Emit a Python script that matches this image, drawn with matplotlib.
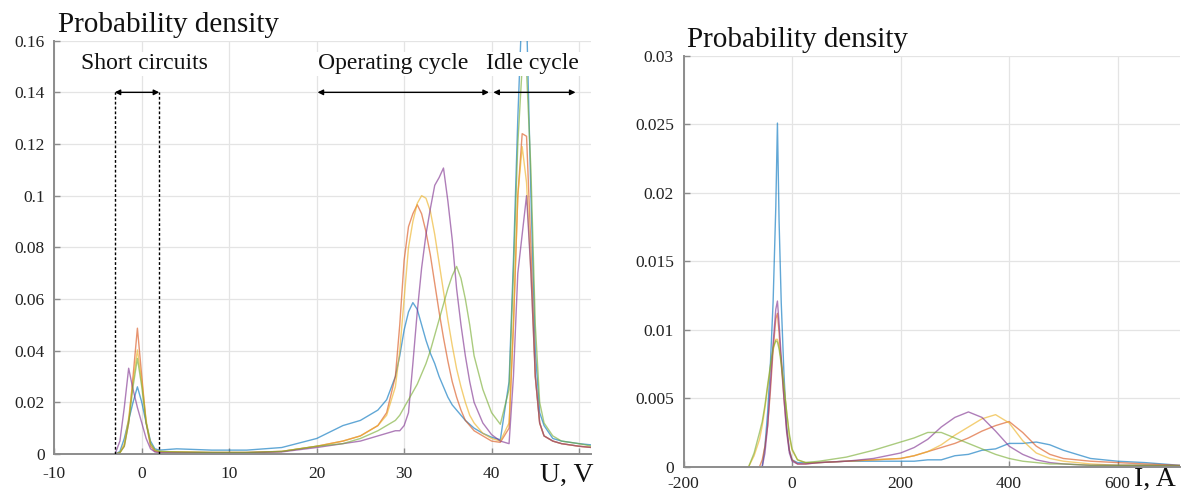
import numpy as np
import matplotlib
matplotlib.use("Agg")
import matplotlib.pyplot as plt

plt.rcParams['font.family'] = ['Liberation Serif', 'DejaVu Serif']

nan = np.nan
# ---------------- Left panel: voltage ----------------
u_vals = [-4, -3, -2.5, -2, -1.5, -1, -0.5, 0, 0.5, 1, 1.5, 2,
          4, 8, 12, 16, 20, 23, 25, 27, 28,
          29, 29.5, 30, 30.5, 31, 31.5, 32, 32.5, 33, 33.5, 34, 34.5, 35, 35.5, 36, 36.5, 37, 37.5, 38,
          39, 40, 41, 42, 42.5, 43, 43.5, 44, 44.5, 45, 45.5, 46, 47, 48, 50, 51.5]

u_blue = [nan, 0, 0.001, 0.006, 0.013, 0.02, 0.026, 0.02, 0.012, 0.005, 0.002, 0.0015,
          0.002, 0.0015, 0.0015, 0.0025, 0.006, 0.011, 0.013, 0.017, 0.021,
          0.03, 0.038, 0.048, 0.055, 0.0586, 0.056, 0.05, 0.044, 0.039, 0.035, 0.03, 0.026, 0.022, 0.019, 0.017, 0.015, 0.013, 0.0115, 0.01,
          0.008, 0.0065, 0.0055, 0.028, 0.075, 0.13, 0.175, 0.17, 0.1, 0.04, 0.016, 0.011, 0.006, 0.005, 0.004, 0.0035]
u_orange = [nan, 0, 0.0005, 0.003, 0.012, 0.03, 0.0487, 0.03, 0.012, 0.003, 0.001, 0.0008,
            0.0008, 0.0006, 0.0006, 0.001, 0.003, 0.005, 0.007, 0.011, 0.016,
            0.03, 0.05, 0.075, 0.088, 0.093, 0.0965, 0.093, 0.086, 0.077, 0.066, 0.055, 0.045, 0.036, 0.028, 0.022, 0.017, 0.013, 0.011, 0.009,
            0.007, 0.005, 0.0045, 0.01, 0.05, 0.1, 0.124, 0.123, 0.08, 0.03, 0.012, 0.007, 0.005, 0.004, 0.003, 0.0025]
u_yellow = [nan, 0, 0.0005, 0.004, 0.014, 0.028, 0.0403, 0.028, 0.013, 0.004, 0.0015, 0.001,
            0.0008, 0.0006, 0.0006, 0.001, 0.003, 0.005, 0.007, 0.011, 0.015,
            0.026, 0.04, 0.06, 0.08, 0.09, 0.097, 0.1, 0.099, 0.094, 0.085, 0.074, 0.063, 0.052, 0.042, 0.033, 0.026, 0.02, 0.015, 0.012,
            0.008, 0.006, 0.005, 0.012, 0.05, 0.1, 0.119, 0.105, 0.07, 0.03, 0.012, 0.007, 0.005, 0.004, 0.003, 0.0025]
u_purple = [nan, 0.0005, 0.005, 0.018, 0.0332, 0.025, 0.018, 0.012, 0.006, 0.002, 0.0008, 0.0005,
            0.0005, 0.0005, 0.0005, 0.0008, 0.0025, 0.004, 0.005, 0.007, 0.008,
            0.009, 0.009, 0.011, 0.016, 0.035, 0.055, 0.072, 0.085, 0.095, 0.104, 0.107, 0.1107, 0.098, 0.083, 0.064, 0.05, 0.038, 0.028, 0.02,
            0.012, 0.0075, 0.005, 0.004, 0.03, 0.07, 0.085, 0.1, 0.07, 0.03, 0.012, 0.007, 0.005, 0.004, 0.003, 0.0025]
u_green = [nan, 0, 0.0005, 0.003, 0.012, 0.026, 0.037, 0.026, 0.012, 0.004, 0.0015, 0.001,
           0.0008, 0.0006, 0.0006, 0.001, 0.003, 0.004, 0.006, 0.009, 0.011,
           0.013, 0.015, 0.018, 0.021, 0.024, 0.027, 0.031, 0.035, 0.04, 0.046, 0.052, 0.058, 0.064, 0.069, 0.0726, 0.068, 0.06, 0.05, 0.038,
           0.025, 0.016, 0.0115, 0.025, 0.07, 0.12, 0.15, 0.148, 0.11, 0.05, 0.02, 0.012, 0.007, 0.005, 0.004, 0.003]

u_ticks = [-10, 0, 10, 20, 30, 40, 50]
u_ticklabels = ['-10', '0', '10', '20', '30', '40', '']
u_yticks = [0, 0.02, 0.04, 0.06, 0.08, 0.1, 0.12, 0.14, 0.16]
u_yticklabels = ['0', '0.02', '0.04', '0.06', '0.08', '0.1', '0.12', '0.14', '0.16']

# ---------------- Right panel: current ----------------
i_vals = [-90, -80, -70, -60, -55, -50, -45, -40, -35, -30, -27, -24, -20, -15, -10, -5, 0,
          10, 25, 50, 100, 150, 200, 225, 250, 275, 300, 325, 350, 375, 400, 425, 450, 475, 500,
          550, 600, 650, 715]

i_blue = [nan, nan, nan, nan, 0, 0.0015, 0.004, 0.0075, 0.012, 0.019, 0.0251, 0.018, 0.012, 0.0068, 0.003, 0.0012, 0.0005,
          0.0003, 0.0003, 0.0003, 0.0004, 0.0004, 0.0004, 0.0004, 0.0005, 0.0005, 0.0008, 0.0009, 0.0012, 0.0013, 0.0017, 0.0017, 0.0018, 0.0016, 0.0012,
          0.0006, 0.0004, 0.0003, 0.0001]
i_orange = [nan, nan, nan, 0, 0.0005, 0.0015, 0.003, 0.0055, 0.0085, 0.0108, 0.0112, 0.0098, 0.0075, 0.005, 0.0027, 0.0012, 0.0005,
            0.0002, 0.0002, 0.0003, 0.0004, 0.0005, 0.0006, 0.0008, 0.0011, 0.0014, 0.0017, 0.0021, 0.0026, 0.003, 0.0033, 0.0025, 0.0015, 0.0009, 0.0006,
            0.0004, 0.0003, 0.0002, 0.0001]
i_yellow = [nan, 0, 0.0008, 0.002, 0.003, 0.0043, 0.0058, 0.0072, 0.0085, 0.0093, 0.0093, 0.0088, 0.0078, 0.006, 0.004, 0.0022, 0.0012,
            0.0005, 0.0003, 0.0003, 0.0004, 0.0005, 0.0006, 0.0008, 0.0011, 0.0016, 0.0023, 0.0029, 0.0035, 0.0038, 0.0032, 0.0019, 0.001, 0.0006, 0.0004,
            0.0002, 0.0001, 0.0001, 0.00005]
i_purple = [nan, nan, nan, nan, 0, 0.001, 0.003, 0.006, 0.009, 0.0115, 0.0121, 0.0105, 0.008, 0.005, 0.0025, 0.001, 0.0004,
            0.0002, 0.0002, 0.0003, 0.0004, 0.0006, 0.001, 0.0014, 0.002, 0.0029, 0.0036, 0.004, 0.0036, 0.0026, 0.0015, 0.0009, 0.0005, 0.0003, 0.0002,
            0.0001, 0.0001, 0.0001, 0.00005]
i_green = [nan, 0, 0.001, 0.0025, 0.0033, 0.0045, 0.006, 0.0074, 0.0087, 0.0092, 0.0091, 0.0086, 0.0075, 0.0058, 0.004, 0.0024, 0.0013,
           0.0005, 0.0003, 0.0004, 0.0007, 0.0012, 0.0018, 0.0021, 0.0025, 0.0025, 0.0021, 0.0017, 0.0013, 0.0009, 0.0006, 0.0004, 0.0003, 0.0002, 0.0002,
           0.0001, 0.0001, 0.0001, 0.00005]

i_ticks = [-200, 0, 200, 400, 600]
i_ticklabels = ['-200', '0', '200', '400', '600']
i_yticks = [0, 0.005, 0.01, 0.015, 0.02, 0.025, 0.03]
i_yticklabels = ['0', '0.005', '0.01', '0.015', '0.02', '0.025', '0.03']

colors = {'blue': '#0072BD', 'orange': '#D95319', 'yellow': '#EDB120',
          'purple': '#7E2F8E', 'green': '#77AC30'}

fig = plt.figure(figsize=(11.94, 4.96), dpi=100)
axL = fig.add_axes([0.0455, 0.0847, 0.4497, 0.8333])
axR = fig.add_axes([0.5725, 0.0591, 0.4158, 0.828])

def style(ax, xpad):
    for s in ['top', 'right']:
        ax.spines[s].set_visible(False)
    for s in ['left', 'bottom']:
        ax.spines[s].set_color('#8c8c8c')
        ax.spines[s].set_linewidth(1.4)
    ax.grid(True, color='#e4e4e4', lw=0.9)
    ax.set_axisbelow(True)
    ax.tick_params(direction='in', length=4, width=1, color='#8c8c8c',
                   labelsize=12.5, labelcolor='#222222')
    ax.tick_params(axis='y', pad=7)
    ax.tick_params(axis='x', pad=xpad)

lw = 1.0
alpha = 0.62
for name, ys in [('blue', u_blue), ('orange', u_orange), ('yellow', u_yellow),
                 ('purple', u_purple), ('green', u_green)]:
    axL.plot(u_vals, ys, color=colors[name], lw=lw, alpha=alpha, zorder=2)
for name, ys in [('blue', i_blue), ('orange', i_orange), ('yellow', i_yellow),
                 ('purple', i_purple), ('green', i_green)]:
    axR.plot(i_vals, ys, color=colors[name], lw=lw, alpha=alpha, zorder=2)

style(axL, 9)
style(axR, 7)

axL.set_xlim(-10, 51.4)
axL.set_ylim(0, 0.16)
axL.set_xticks(u_ticks)
axL.set_xticklabels(u_ticklabels)
axL.set_yticks(u_yticks)
axL.set_yticklabels(u_yticklabels)

axR.set_xlim(-200, 715)
axR.set_ylim(0, 0.03)
axR.set_xticks(i_ticks)
axR.set_xticklabels(i_ticklabels)
axR.set_yticks(i_yticks)
axR.set_yticklabels(i_yticklabels)

# titles above axes
axL.text(0.006, 1.02, 'Probability density', transform=axL.transAxes,
         fontsize=21, ha='left', va='baseline', color='#111111')
axR.text(0.006, 1.022, 'Probability density', transform=axR.transAxes,
         fontsize=21, ha='left', va='baseline', color='#111111')
axL.text(0.905, -0.067, 'U, V', transform=axL.transAxes, fontsize=20,
         ha='left', va='baseline', color='#111111')
axR.text(0.908, -0.046, 'I, A', transform=axR.transAxes, fontsize=20,
         ha='left', va='baseline', color='#111111', clip_on=False)

# annotations on left panel
arrow_y = 0.14
text_y = 0.151
spans = [(-3.1, 2.0, 'Short circuits', 0.3),
         (20.1, 39.7, 'Operating cycle', 28.7),
         (40.2, 49.6, 'Idle cycle', 44.7)]
for x0, x1, label, xc in spans:
    axL.annotate('', xy=(x1, arrow_y), xytext=(x0, arrow_y),
                 arrowprops=dict(arrowstyle='<|-|>', mutation_scale=8, lw=1.0,
                                 color='black', shrinkA=0, shrinkB=0), zorder=4)
    axL.text(xc, text_y, label, fontsize=17, ha='center', va='center', color='#111111',
             zorder=5, bbox=dict(facecolor='white', edgecolor='none', pad=1))
for xd in [-3.1, 2.0]:
    axL.plot([xd, xd], [0, arrow_y], color='black', lw=1.0, ls=(0, (2, 1.5)), zorder=3)

fig.savefig('out.png', dpi=100)
